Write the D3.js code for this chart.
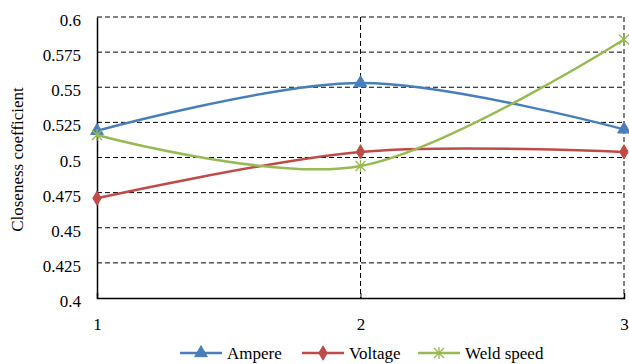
<!DOCTYPE html>
<html><head><meta charset="utf-8">
<script src="https://cdn.jsdelivr.net/npm/d3@7"></script>
<style>body{margin:0;background:#fff}svg{display:block}</style>
</head><body><svg id="c" width="629" height="364" font-family="Liberation Serif, Times New Roman, serif"></svg>
<script>
const categories = [1, 2, 3];
const ampere = [0.519, 0.553, 0.520];
const voltage = [0.471, 0.504, 0.504];
const weldSpeed = [0.516, 0.494, 0.584];
const yTicks = [0.4, 0.425, 0.45, 0.475, 0.5, 0.525, 0.55, 0.575, 0.6];
const yTickLabels = ["0.4","0.425","0.45","0.475","0.5","0.525","0.55","0.575","0.6"];
const seriesNames = ["Ampere", "Voltage", "Weld speed"];
const colors = ["#4A7EBB", "#BE4B48", "#98B954"];

const FONT = "'Liberation Serif', 'Times New Roman', serif";
const FS = 17;
const svg = d3.select("#c");
const L = 97, R = 624, T = 17, B = 298;
const x = d3.scaleLinear().domain([1, 3]).range([L, R]);
const y = d3.scaleLinear().domain([0.4, 0.6]).range([B, T]);

svg.append("g").selectAll("line").data(yTicks.filter(v => v > 0.4)).join("line")
  .attr("x1", L).attr("x2", R).attr("y1", d => y(d)).attr("y2", d => y(d))
  .attr("stroke", "#000").attr("stroke-width", 1).attr("stroke-dasharray", "5,3");
svg.append("g").selectAll("line").data(categories.filter(v => v > 1)).join("line")
  .attr("x1", d => x(d)).attr("x2", d => x(d)).attr("y1", T).attr("y2", B)
  .attr("stroke", "#000").attr("stroke-width", 1).attr("stroke-dasharray", "5,3");

const yAxis = d3.axisLeft(y).tickValues(yTicks).tickFormat((d, i) => yTickLabels[i]).tickSize(0).tickPadding(16);
const gy = svg.append("g").attr("transform", `translate(${L},0)`).call(yAxis)
  .attr("font-family", FONT).attr("font-size", FS);
gy.select(".domain").attr("stroke", "#000").attr("stroke-width", 1.5);
gy.selectAll("text").attr("dy", "0.5em").attr("fill", "#000");

const xAxis = d3.axisBottom(x).tickValues(categories).tickFormat(d3.format("d")).tickSize(-5).tickPadding(20);
const gx = svg.append("g").attr("transform", `translate(0,${B})`).call(xAxis)
  .attr("font-family", FONT).attr("font-size", FS);
gx.select(".domain").attr("stroke", "#000").attr("stroke-width", 1.5);
gx.selectAll(".tick line").attr("stroke", "#000");
gx.selectAll("text").attr("fill", "#000");

svg.append("text").attr("transform", `translate(23,${(T + B) / 2 + 2}) rotate(-90)`)
  .attr("text-anchor", "middle").attr("font-family", FONT).attr("font-size", FS).text("Closeness coefficient");

const allSeries = [ampere, voltage, weldSpeed];
const line = d3.line().x((d, i) => x(categories[i])).y(d => y(d)).curve(d3.curveCardinal.tension(0));

function marker(g, type, color, cx, cy) {
  if (type === 0) {
    g.append("path").attr("d", d3.symbol(d3.symbolTriangle, 70)()).attr("transform", `translate(${cx},${cy})`)
      .attr("fill", color).attr("stroke", color);
  } else if (type === 1) {
    g.append("path").attr("d", d3.symbol(d3.symbolDiamond, 60)()).attr("transform", `translate(${cx},${cy})`)
      .attr("fill", color).attr("stroke", color);
  } else {
    const s = 5;
    const p = `M${-s},${-s}L${s},${s}M${-s},${s}L${s},${-s}M0,${-s - 1}L0,${s + 1}`;
    g.append("path").attr("d", p).attr("transform", `translate(${cx},${cy})`)
      .attr("fill", "none").attr("stroke", color).attr("stroke-width", 1.3);
  }
}

allSeries.forEach((vals, si) => {
  const g = svg.append("g");
  g.append("path").datum(vals).attr("d", line).attr("fill", "none")
    .attr("stroke", colors[si]).attr("stroke-width", 2.5);
  vals.forEach((v, i) => marker(g, si, colors[si], x(categories[i]), y(v)));
});

const legX = [180, 302, 418];
const ly = 353;
seriesNames.forEach((n, i) => {
  const g = svg.append("g");
  g.append("line").attr("x1", legX[i]).attr("x2", legX[i] + 42).attr("y1", ly).attr("y2", ly)
    .attr("stroke", colors[i]).attr("stroke-width", 2.5);
  marker(g, i, colors[i], legX[i] + 21, ly);
  g.append("text").attr("x", legX[i] + 47).attr("y", ly).attr("dy", "0.35em")
    .attr("font-family", FONT).attr("font-size", FS).text(n);
});
</script></body></html>
